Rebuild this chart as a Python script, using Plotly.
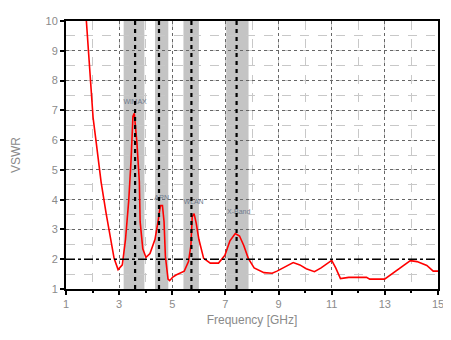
import plotly.graph_objects as go

freq = [1.72, 1.77, 1.89, 2.02, 2.14, 2.32, 2.51, 2.69, 2.81, 2.96, 3.12, 3.24, 3.36, 3.45, 3.52, 3.57,
        3.67, 3.76, 3.79, 3.89, 4.01, 4.16, 4.35, 4.47, 4.55, 4.63, 4.69, 4.74, 4.84, 4.9, 5.02, 5.14,
        5.45, 5.61, 5.70, 5.75, 5.82, 5.90, 6.00, 6.18, 6.43, 6.74, 6.98, 7.17, 7.37, 7.53, 7.69, 7.86,
        8.08, 8.45, 8.76, 8.94, 9.19, 9.55, 9.80, 10.04, 10.35, 10.60, 11.00, 11.15, 11.33, 11.64,
        12.31, 12.43, 12.99, 13.35, 13.96, 14.21, 14.58, 14.82, 15.0]
vswr = [10.6, 10.0, 8.57, 6.75, 5.9, 4.6, 3.54, 2.57, 2.03, 1.65, 1.81, 2.67, 3.96, 5.35, 6.8, 6.9,
        5.9, 4.6, 3.26, 2.35, 2.06, 2.19, 2.67, 3.3, 3.8, 3.8, 3.26, 2.1, 1.33, 1.28, 1.40, 1.47,
        1.6, 1.92, 2.46, 3.42, 3.53, 3.21, 2.67, 2.03, 1.87, 1.87, 2.13, 2.62, 2.86, 2.78, 2.46, 2.03,
        1.71, 1.55, 1.53, 1.6, 1.73, 1.89, 1.81, 1.68, 1.58, 1.71, 1.96, 1.71, 1.35, 1.39,
        1.39, 1.33, 1.33, 1.55, 1.95, 1.92, 1.79, 1.6, 1.6]

band_lo = [3.17, 4.35, 5.42, 7.03]
band_hi = [3.95, 4.85, 6.0, 7.87]
band_center = [3.6, 4.5, 5.72, 7.42]
band_names = ["WiMAX", "ARN", "WLAN", "X-Band"]
label_x = [3.6, 4.6, 5.8, 7.5]
label_y = [7.27, 4.05, 3.9, 3.57]

x_ticks = [1, 3, 5, 7, 9, 11, 13, 15]
y_ticks = [1, 2, 3, 4, 5, 6, 7, 8, 9, 10]
ref_level = 2

FONT = "Liberation Sans"
GREY = "#8a8a8a"

fig = go.Figure()
fig.add_trace(go.Scatter(x=freq, y=vswr, mode="lines",
                         line=dict(color="#ff0000", width=1.6), showlegend=False))
fig.add_trace(go.Scatter(x=label_x, y=label_y, mode="text", text=band_names,
                         textfont=dict(size=7, color="#6f7a8c", family=FONT),
                         showlegend=False))

shapes = []
for lo, hi, c in zip(band_lo, band_hi, band_center):
    shapes.append(dict(type="rect", xref="x", yref="paper", x0=lo, x1=hi, y0=0, y1=1,
                       fillcolor="#c4c4c4", line=dict(width=0), layer="below"))
    shapes.append(dict(type="line", xref="x", yref="paper", x0=c, x1=c, y0=0, y1=1,
                       line=dict(color="black", width=2.2, dash="4px,4px")))
shapes.append(dict(type="line", xref="paper", yref="y", x0=0, x1=1, y0=ref_level, y1=ref_level,
                   line=dict(color="black", width=1.5, dash="dashdot")))
fig.update_layout(shapes=shapes)

axis_common = dict(showline=True, linecolor="black", linewidth=2, mirror=True,
                   ticks="outside", tickcolor="black", ticklen=4, tickwidth=1.5,
                   showgrid=True, gridcolor="#666666", griddash="dot", gridwidth=1,
                   zeroline=False,
                   tickfont=dict(family=FONT, size=11, color=GREY))

fig.update_xaxes(range=[1, 15], tickvals=x_ticks, **axis_common,
                 minor=dict(dtick=1, ticks="outside", ticklen=2, tickcolor="black",
                            showgrid=True, gridcolor="#c8c8c8", griddash="dash"),
                 title=dict(text="Frequency [GHz]", standoff=6,
                            font=dict(family=FONT, size=12, color=GREY)))
fig.update_yaxes(range=[1, 10], tickvals=y_ticks, **axis_common,
                 minor=dict(dtick=0.5, ticks="", showgrid=True, gridcolor="#c8c8c8", griddash="dash"),
                 title=dict(text="VSWR", standoff=22,
                            font=dict(family=FONT, size=12, color=GREY)))

fig.update_layout(width=443, height=324, margin=dict(l=56, r=11, t=7, b=40),
                  plot_bgcolor="white", paper_bgcolor="white")

fig.write_html("out.html")
